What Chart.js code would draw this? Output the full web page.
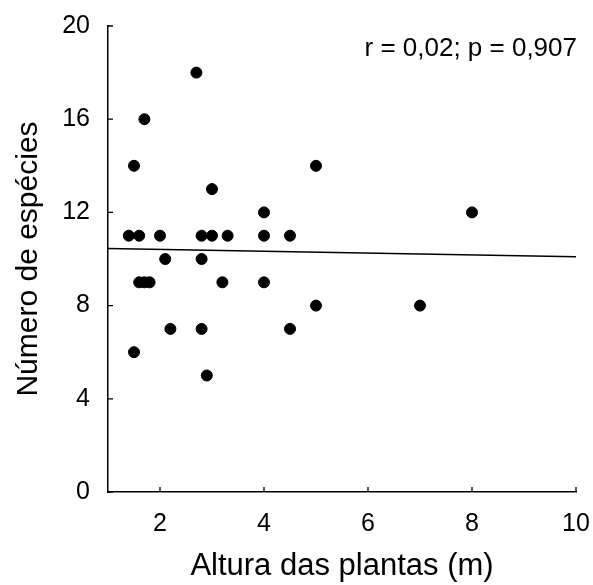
<!DOCTYPE html>
<html>
<head>
<meta charset="utf-8">
<script src="https://cdn.jsdelivr.net/npm/chart.js@4/dist/chart.umd.min.js"></script>
<style>
    html, body { margin: 0; padding: 0; background: #fff; }
    #grafico { width: 593px; height: 585px; }
</style>
</head>
<body>
<div id="grafico"><canvas id="graficoAltura"></canvas></div>
<script>
const alturas = [2.7, 1.7, 1.5, 5, 3, 4, 1.4, 1.6, 2, 2.8, 3, 3.3, 4, 4.5, 2.1, 2.8, 1.6, 1.7, 1.8, 3.2, 4, 5, 7, 2.2, 2.8, 4.5, 1.5, 2.9, 8];
const especies = [18, 16, 14, 14, 13, 12, 11, 11, 11, 11, 11, 11, 11, 11, 10, 10, 9, 9, 9, 9, 9, 8, 8, 7, 7, 7, 6, 5, 12];
const linhaX = [1, 10];
const linhaY = [10.45, 10.1];
const ticksX = [2, 4, 6, 8, 10];
const ticksY = [0, 4, 8, 12, 16, 20];
const textoEstat = "r = 0,02; p = 0,907";

const fonte = "'Liberation Sans', Arial, sans-serif";

// marcas dos eixos voltadas para dentro + texto da estatística
const marcasInternas = {
    id: "marcasInternas",
    afterDraw(chart) {
        const ctx = chart.ctx;
        const area = chart.chartArea;
        const sx = chart.scales.x, sy = chart.scales.y;
        ctx.save();
        ctx.strokeStyle = "#000";
        ctx.lineWidth = 1.3;
        ctx.beginPath();
        sx.ticks.forEach(t => {
            const px = sx.getPixelForValue(t.value);
            ctx.moveTo(px, area.bottom);
            ctx.lineTo(px, area.bottom - 5);
        });
        sy.ticks.forEach(t => {
            const py = sy.getPixelForValue(t.value);
            ctx.moveTo(area.left, py);
            ctx.lineTo(area.left + 5, py);
        });
        ctx.stroke();
        ctx.fillStyle = "#000";
        ctx.font = "26px " + fonte;
        ctx.textAlign = "right";
        ctx.textBaseline = "middle";
        ctx.fillText(textoEstat, area.right + 1, 49);
        ctx.restore();
    }
};

new Chart(document.getElementById("graficoAltura"), {
    type: "scatter",
    data: {
        datasets: [{
            label: "Espécies",
            data: alturas.map((a, i) => ({ x: a, y: especies[i] })),
            backgroundColor: "#000",
            borderColor: "#000",
            pointRadius: 5.5,
            pointHoverRadius: 5.5
        }, {
            label: "Regressão",
            type: "line",
            data: linhaX.map((a, i) => ({ x: a, y: linhaY[i] })),
            borderColor: "#000",
            borderWidth: 1.5,
            pointRadius: 0,
            fill: false
        }]
    },
    options: {
        responsive: true,
        maintainAspectRatio: false,
        animation: false,
        layout: { padding: { top: 26, right: 17, left: 0, bottom: 0 } },
        plugins: {
            legend: { display: false },
            tooltip: { enabled: false }
        },
        scales: {
            x: {
                type: "linear",
                min: 1,
                max: 10,
                afterBuildTicks: s => { s.ticks = ticksX.map(v => ({ value: v })); },
                afterFit: s => { s.height = 93; s.paddingLeft = 0; s.paddingRight = 0; },
                grid: { display: false },
                border: { display: true, color: "#000", width: 1.5 },
                ticks: { color: "#000", font: { size: 25, family: fonte }, padding: 9, maxRotation: 0 },
                title: { display: true, text: "Altura das plantas (m)", color: "#000", font: { size: 31, family: fonte }, padding: { top: 0, bottom: 0 } }
            },
            y: {
                type: "linear",
                min: 0,
                max: 20,
                afterBuildTicks: s => { s.ticks = ticksY.map(v => ({ value: v })); },
                afterFit: s => { s.width = 108; s.paddingTop = 0; s.paddingBottom = 0; },
                grid: { display: false },
                border: { display: true, color: "#000", width: 1.5 },
                ticks: { color: "#000", font: { size: 25, family: fonte }, padding: 10 },
                title: { display: true, text: "Número de espécies", color: "#000", font: { size: 30, family: fonte }, padding: { top: 11, bottom: 0 } }
            }
        }
    },
    plugins: [marcasInternas]
});
</script>
</body>
</html>
